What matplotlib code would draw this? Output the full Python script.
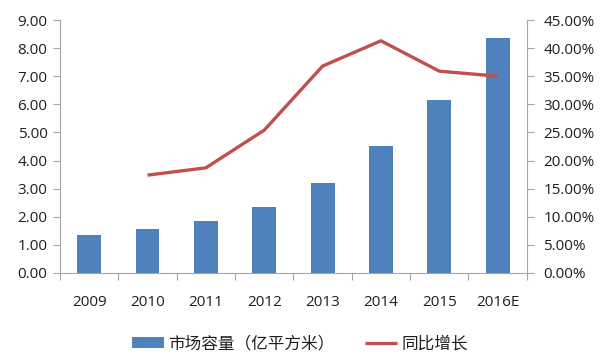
import matplotlib.pyplot as plt
import numpy as np
from matplotlib.ticker import FormatStrFormatter, FuncFormatter

plt.rcParams['font.family'] = ['Open Sans', 'Noto Sans CJK SC', 'DejaVu Sans']

years = ["2009", "2010", "2011", "2012", "2013", "2014", "2015", "2016E"]
capacity = [1.35, 1.57, 1.85, 2.35, 3.20, 4.52, 6.16, 8.36]
growth_years = ["2010", "2011", "2012", "2013", "2014", "2015", "2016E"]
growth = [17.4, 18.7, 25.4, 36.8, 41.3, 35.9, 35.0]

bar_color = "#4F81BD"
line_color = "#C0504D"
axis_color = "#A6A6A6"
text_color = "#1F1F1F"

fig = plt.figure(figsize=(6.0, 3.54), dpi=100)
ax = fig.add_axes([0.1, 0.229, 0.778, 0.7145])
ax2 = ax.twinx()

x = np.arange(len(years))
ax.bar(x, capacity, width=0.41, color=bar_color, label="市场容量（亿平方米）", zorder=2)
gx = [years.index(y) for y in growth_years]
ax2.plot(gx, growth, color=line_color, lw=2.4, label="同比增长",
         solid_capstyle="butt", solid_joinstyle="round")

ax.set_xlim(-0.5, len(years) - 0.5)
ax.set_ylim(0, 9)
ax2.set_ylim(0, 45)
ax.set_yticks(np.arange(0, 9.01, 1))
ax2.set_yticks(np.arange(0, 45.01, 5))
ax.yaxis.set_major_formatter(FormatStrFormatter("%.2f"))
ax2.yaxis.set_major_formatter(FuncFormatter(lambda v, p: "%.2f%%" % v))

# category boundaries carry the tick marks, labels sit in between
ax.set_xticks(np.arange(-0.5, len(years), 1))
ax.set_xticklabels([])
ax.set_xticks(x, minor=True)
ax.set_xticklabels(years, minor=True)
ax.tick_params(axis="x", which="major", length=5, color=axis_color, direction="out")
ax.tick_params(axis="x", which="minor", length=0, pad=16, labelsize=11, labelcolor=text_color)

for a in (ax, ax2):
    a.spines["top"].set_visible(False)
    for s in ("left", "right", "bottom"):
        a.spines[s].set_color(axis_color)
ax.spines["right"].set_visible(False)
ax2.spines["left"].set_visible(False)
ax2.spines["bottom"].set_visible(False)

ax.tick_params(axis="y", length=5, color=axis_color, labelsize=11, labelcolor=text_color, pad=4)
ax2.tick_params(axis="y", length=5, color=axis_color, labelsize=11, labelcolor=text_color, pad=7)

h1, l1 = ax.get_legend_handles_labels()
h2, l2 = ax2.get_legend_handles_labels()
fig.legend(h1 + h2, l1 + l2, loc="center", bbox_to_anchor=(0.5, 0.028), ncol=2,
           frameon=False, handlelength=1.9, handleheight=0.65,
           columnspacing=1.8, handletextpad=0.3,
           prop={"family": ["Noto Sans CJK SC", "DejaVu Sans"], "size": 12},
           labelcolor=text_color)

fig.savefig("out.png", dpi=100)
